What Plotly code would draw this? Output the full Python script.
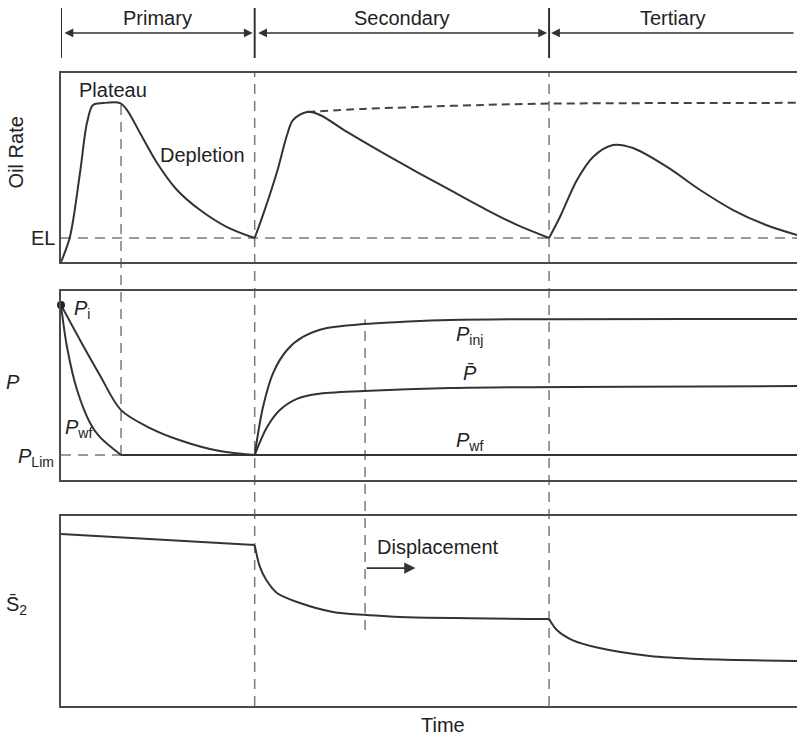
import plotly.graph_objects as go

# ---- time axis and phase boundaries ----
T_MAX = 38.0
phase_names = ["Primary", "Secondary", "Tertiary"]
phase_edges = [0.0, 10.0, 25.2, T_MAX]
t_plateau_end = 3.1
t_displacement = 15.7

# ---- oil rate panel ----
rate_el = 12.7
rate_primary_t = [0, 0.46, 0.98, 1.34, 1.65, 2.17, 3.05, 3.41, 4.08, 4.96, 5.99, 7.18, 8.57, 10]
rate_primary_v = [0, 13.2, 47.1, 73.5, 83.1, 84.1, 84.1, 80.4, 68.3, 52.4, 38.1, 27.5, 18.5, 12.7]
rate_secondary_t = [10, 10.43, 11.15, 11.67, 11.98, 12.7, 13.37, 14.77, 16.62, 18.38, 20.08, 21.79, 23.54, 25.2]
rate_secondary_v = [12.7, 24.9, 47.6, 67.2, 75.1, 79.4, 77.8, 68.8, 57.7, 47.6, 38.1, 28.6, 19.6, 12.7]
rate_continued_t = [12.7, 15.6, 18.38, 21.8, 25.2, 38]
rate_continued_v = [79.4, 81.0, 82.0, 83.1, 83.8, 84.2]
rate_tertiary_t = [25.2, 25.76, 26.64, 27.47, 28.5, 29.53, 31.29, 33.0, 34.7, 36.4, 38]
rate_tertiary_v = [12.7, 23.8, 43.4, 55.6, 61.9, 60.3, 50.3, 38.1, 27.5, 19.6, 14.3]

# ---- pressure panel ----
p_initial = 92.6
p_lim = 13.2
pwf_primary_t = [0, 0.31, 0.83, 1.5, 2.0, 3.1]
pwf_primary_v = [92.6, 70.4, 47.6, 30.2, 22.8, 13.2]
pbar_primary_t = [0, 0.98, 2.0, 3.1, 4.6, 6.1, 8.2, 10]
pbar_primary_v = [92.6, 74.1, 55.6, 37.0, 27.5, 21.2, 15.3, 13.2]
pinj_t = [10, 10.43, 10.95, 11.67, 12.49, 13.73, 15.64, 17.5, 20.08, 38]
pinj_v = [13.2, 38.6, 56.6, 68.8, 75.7, 80.4, 82.5, 83.6, 84.7, 85.2]
pbar_secondary_t = [10, 10.64, 11.3, 12.18, 13.22, 15.64, 20.08, 38]
pbar_secondary_v = [13.2, 28.0, 37.0, 42.9, 45.5, 47.1, 48.7, 49.7]

# ---- saturation panel ----
s_primary_t = [0, 10]
s_primary_v = [90.5, 84.7]
s_secondary_t = [10, 10.27, 10.6, 11.15, 12.34, 14.04, 15.8, 17.5, 25.2]
s_secondary_v = [84.7, 73.2, 66.3, 59.5, 54.2, 49.5, 47.9, 46.8, 45.8]
s_tertiary_t = [25.2, 25.6, 26.4, 27.8, 30.4, 33.0, 38]
s_tertiary_v = [45.8, 40.0, 34.7, 30.5, 26.3, 24.7, 23.7]

# ---- figure geometry (paper fractions) ----
dom_rate = [0.6289, 0.8966]
dom_p = [0.3201, 0.5878]
dom_s = [0.0, 0.2691]
Y_RANGE = [0, 100]
header_bar = [0.9178, 0.9887]
header_arrow_y = 0.9533
header_text_y = 0.9745

INK = "#333333"
FRAME = "#4a4a4a"
GUIDE = "#7a7a7a"
FONT = dict(family="Liberation Sans, Arial, sans-serif", size=20, color="#222222")


def to_paper(domain, value):
    frac = (value - Y_RANGE[0]) / (Y_RANGE[1] - Y_RANGE[0])
    return domain[0] + frac * (domain[1] - domain[0])


fig = go.Figure()


def curve(t, v, axes, dash=None, shape="spline", width=2, color=INK, smoothing=0.9):
    fig.add_trace(go.Scatter(
        x=t, y=v, xaxis=axes[0], yaxis=axes[1], mode="lines",
        line=dict(color=color, width=width, dash=dash, shape=shape, smoothing=smoothing),
        showlegend=False, hoverinfo="skip"))


RATE = ("x", "y")
PRES = ("x2", "y2")
SAT = ("x3", "y3")

# oil rate curves
curve([0, T_MAX], [rate_el, rate_el], RATE, dash="10px,7px", shape="linear", width=1.5, color=GUIDE)
curve(rate_continued_t, rate_continued_v, RATE, dash="8px,5px", color="#444444")
curve(rate_primary_t, rate_primary_v, RATE)
curve(rate_secondary_t, rate_secondary_v, RATE)
curve(rate_tertiary_t, rate_tertiary_v, RATE)

# pressure curves
curve([0, t_plateau_end], [p_lim, p_lim], PRES, dash="10px,7px", shape="linear", width=1.5, color=GUIDE)
curve([t_plateau_end, T_MAX], [p_lim, p_lim], PRES, shape="linear")
curve(pwf_primary_t, pwf_primary_v, PRES)
curve(pbar_primary_t, pbar_primary_v, PRES)
curve(pinj_t, pinj_v, PRES)
curve(pbar_secondary_t, pbar_secondary_v, PRES)
fig.add_trace(go.Scatter(x=[0], y=[p_initial], xaxis="x2", yaxis="y2", mode="markers",
                         marker=dict(color="#222222", size=8), cliponaxis=False,
                         showlegend=False, hoverinfo="skip"))

# saturation curves
curve(s_primary_t, s_primary_v, SAT, shape="linear")
curve(s_secondary_t, s_secondary_v, SAT)
curve(s_tertiary_t, s_tertiary_v, SAT)

shapes = []
# phase boundary guides through all panels
for edge in phase_edges[1:3]:
    shapes.append(dict(type="line", xref="x", yref="paper", x0=edge, x1=edge,
                       y0=dom_s[0], y1=dom_rate[1],
                       line=dict(color=GUIDE, width=1.5, dash="10px,7px"), layer="below"))
# end of plateau guide
shapes.append(dict(type="line", xref="x", yref="paper", x0=t_plateau_end, x1=t_plateau_end,
                   y0=to_paper(dom_p, p_lim), y1=to_paper(dom_rate, max(rate_primary_v)),
                   line=dict(color=GUIDE, width=1.5, dash="10px,7px"), layer="below"))
# displacement guide
shapes.append(dict(type="line", xref="x", yref="paper", x0=t_displacement, x1=t_displacement,
                   y0=to_paper(dom_s, 40), y1=to_paper(dom_p, 85),
                   line=dict(color=GUIDE, width=1.5, dash="10px,7px"), layer="below"))
# header bars
for edge in phase_edges[0:3]:
    shapes.append(dict(type="line", xref="x", yref="paper", x0=edge, x1=edge,
                       y0=header_bar[0], y1=header_bar[1], line=dict(color=INK, width=2)))

annotations = []
# header arrows and labels
for i, name in enumerate(phase_names):
    a, b = phase_edges[i], phase_edges[i + 1]
    last = i == len(phase_names) - 1
    annotations.append(dict(
        x=a if last else b, y=header_arrow_y, xref="x", yref="paper",
        ax=b if last else a, ay=0, axref="x", ayref="pixel",
        text="", showarrow=True, arrowhead=2, arrowsize=1.1, arrowwidth=1.6,
        arrowcolor=INK, arrowside="end" if last else "end+start",
        standoff=2, startstandoff=2))
    annotations.append(dict(x=(a + b) / 2, y=header_text_y, xref="x", yref="paper",
                            xanchor="center", yanchor="middle",
                            text=name, showarrow=False, font=FONT))


def label(text, x, y, axes, xanchor="center", **kw):
    annotations.append(dict(text=text, x=x, y=y, xref=axes[0], yref=axes[1],
                            xanchor=xanchor, yanchor="middle", showarrow=False,
                            font=FONT, **kw))


def side_label(text, y, xshift, textangle=0):
    annotations.append(dict(text=text, x=0, y=y, xref="paper", yref="paper",
                            xanchor="center", yanchor="middle", xshift=xshift,
                            textangle=textangle, showarrow=False, font=FONT))


# oil rate labels
label("Plateau", 2.68, 91, RATE)
label("Depletion", 7.33, 56.6, RATE)
annotations.append(dict(text="EL", x=0, y=rate_el, xref="paper", yref="y", xanchor="right",
                        yanchor="middle", xshift=-4, showarrow=False, font=FONT))
side_label("Oil Rate", to_paper(dom_rate, 58), -45, textangle=-90)

# pressure labels
label("<i>P</i><sub>i</sub>", 0.57, 90, PRES, xanchor="left")
label("<i>P</i><sub>wf</sub>", 0.1, 27.5, PRES, xanchor="left")
label("<i>P</i><sub>inj</sub>", 20.3, 76.2, PRES, xanchor="left")
label("<i>P̄</i>", 21.1, 56.5, PRES)
label("<i>P</i><sub>wf</sub>", 20.3, 20.6, PRES, xanchor="left")
annotations.append(dict(text="<i>P</i><sub>Lim</sub>", x=0, y=p_lim - 1.5, xref="paper", yref="y2",
                        xanchor="right", yanchor="middle", xshift=-5, showarrow=False, font=FONT))
side_label("<i>P</i>", to_paper(dom_p, 52), -48)

# saturation labels
label("Displacement", 16.2, 83.7, SAT, xanchor="left")
annotations.append(dict(x=18.3, y=72.6, xref="x3", yref="y3", ax=t_displacement, ay=0,
                        axref="x3", ayref="pixel", text="", showarrow=True, arrowhead=2,
                        arrowsize=1.4, arrowwidth=1.6, arrowcolor=INK))
side_label("S̄<sub>2</sub>", to_paper(dom_s, 53), -45)
annotations.append(dict(text="Time", x=(phase_edges[1] + phase_edges[2]) / 2 + 2.1, y=-0.008,
                        xref="x", yref="paper", xanchor="center", yanchor="top",
                        showarrow=False, font=FONT))

xcommon = dict(range=[0, T_MAX], showgrid=False, zeroline=False, showticklabels=False,
               ticks="", showline=True, mirror=True, linecolor=FRAME, linewidth=2)
ycommon = dict(range=Y_RANGE, showgrid=False, zeroline=False, showticklabels=False,
               ticks="", showline=True, mirror=False, linecolor=FRAME, linewidth=2)

fig.update_layout(
    width=797, height=736,
    margin=dict(l=61, r=0, t=0, b=30),
    paper_bgcolor="white", plot_bgcolor="white",
    xaxis=dict(xcommon, anchor="y"),
    xaxis2=dict(xcommon, anchor="y2", matches="x"),
    xaxis3=dict(xcommon, anchor="y3", matches="x"),
    yaxis=dict(ycommon, domain=dom_rate, anchor="x"),
    yaxis2=dict(ycommon, domain=dom_p, anchor="x2"),
    yaxis3=dict(ycommon, domain=dom_s, anchor="x3"),
    shapes=shapes, annotations=annotations,
    font=FONT, showlegend=False,
)

fig.write_html("out.html")
